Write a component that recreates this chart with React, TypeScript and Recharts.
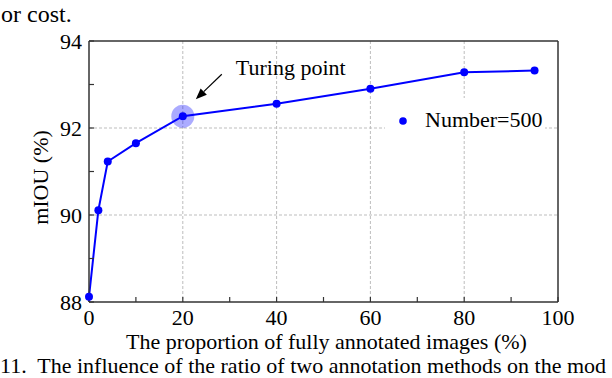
import React from 'react';
import {
  LineChart,
  Line,
  XAxis,
  YAxis,
  CartesianGrid,
  ReferenceLine,
  ReferenceDot,
  Legend,
  Label,
} from 'recharts';

// proportion of fully annotated images (%) and mIOU (%)
const proportions = [0, 2, 4, 10, 20, 40, 60, 80, 95];
const miou = [88.12, 90.11, 91.23, 91.65, 92.27, 92.56, 92.9, 93.28, 93.32];

const xTicks = [0, 10, 20, 30, 40, 50, 60, 70, 80, 90, 100];
const xLabeled = [0, 20, 40, 60, 80, 100];
const yTicks = [88, 89, 90, 91, 92, 93, 94];
const yLabeled = [88, 90, 92, 94];
const xGrid = [20, 40, 60, 80];
const yGrid = [90, 92];

const turningX = 20;
const turningY = 92.27;
const seriesName = 'Number=500';
const turningLabel = 'Turing point';
const xTitle = 'The proportion of fully annotated images (%)';
const yTitle = 'mIOU (%)';
const topCaption = 'or cost.';
const bottomCaption = '11.  The influence of the ratio of two annotation methods on the mod';

const data = proportions.map((p, i) => ({ p, miou: miou[i] }));

const FONT = '"Liberation Serif", "Times New Roman", serif';
const AXIS = '#333';
const BLUE = '#0000ff';

function TurningMark(props: any) {
  const { cx, cy } = props;
  const tipX = cx + 13;
  const tipY = cy - 17;
  const tailX = cx + 39;
  const tailY = cy - 42;
  const dx = tipX - tailX;
  const dy = tipY - tailY;
  const len = Math.hypot(dx, dy);
  const ux = dx / len;
  const uy = dy / len;
  const head = 11;
  const half = 4.5;
  const bx = tipX - ux * head;
  const by = tipY - uy * head;
  const pts = `${tipX},${tipY} ${bx - uy * half},${by + ux * half} ${bx + uy * half},${by - ux * half}`;
  return (
    <g>
      <circle cx={cx} cy={cy} r={11.5} fill={BLUE} fillOpacity={0.33} />
      <line x1={tailX} y1={tailY} x2={bx} y2={by} stroke="#000" strokeWidth={1.2} />
      <polygon points={pts} fill="#000" />
      <text x={cx + 53} y={cy - 41} fontSize={22} fontFamily={FONT} fill="#000">
        {turningLabel}
      </text>
    </g>
  );
}

function LegendBox() {
  return (
    <svg width={160} height={33} style={{ display: 'block' }}>
      <circle cx={18} cy={23} r={3.8} fill={BLUE} />
      <text x={40} y={28.7} fontSize={22} fontFamily={FONT} fill="#000">
        {seriesName}
      </text>
    </svg>
  );
}

export default function App() {
  return (
    <div style={{ position: 'absolute', left: 0, top: 0, width: 612, height: 378, background: '#fff' }}>
      <LineChart width={612} height={378} data={data} margin={{ top: 41, right: 54, bottom: 0, left: 0 }}>
        <CartesianGrid
          stroke="#bdbdbd"
          strokeDasharray="3 2"
          horizontalValues={yGrid}
          verticalValues={xGrid}
        />
        <XAxis
          type="number"
          dataKey="p"
          domain={[0, 100]}
          ticks={xTicks}
          interval={0}
          tickFormatter={(v: number) => (xLabeled.includes(v) ? String(v) : '')}
          height={76}
          tickSize={-5}
          tickMargin={12}
          axisLine={{ stroke: AXIS, strokeWidth: 1.5 }}
          tickLine={{ stroke: AXIS, strokeWidth: 1.2 }}
          tick={{ fill: '#000', fontSize: 22, fontFamily: FONT }}
        >
          <Label
            value={xTitle}
            position="insideBottom"
            offset={29}
            dx={3}
            fill="#000"
            fontSize={22}
            fontFamily={FONT}
          />
        </XAxis>
        <YAxis
          type="number"
          domain={[88, 94]}
          ticks={yTicks}
          interval={0}
          tickFormatter={(v: number) => (yLabeled.includes(v) ? String(v) : '')}
          width={89}
          tickSize={-5}
          tickMargin={12}
          axisLine={{ stroke: AXIS, strokeWidth: 1.5 }}
          tickLine={{ stroke: AXIS, strokeWidth: 1.2 }}
          tick={{ fill: '#000', fontSize: 22, fontFamily: FONT }}
        >
          <Label
            content={(p: any) => {
              const vb = p.viewBox || { x: 0, y: 41, width: 89, height: 261 };
              const x = vb.x + 48;
              const y = vb.y + vb.height / 2 + 6;
              return (
                <text
                  x={x}
                  y={y}
                  transform={`rotate(-90 ${x} ${y})`}
                  textAnchor="middle"
                  fontSize={22}
                  fontFamily={FONT}
                  fill="#000"
                >
                  {yTitle}
                </text>
              );
            }}
          />
        </YAxis>
        <ReferenceLine y={94} stroke={AXIS} strokeWidth={1.5} />
        <ReferenceLine x={100} stroke={AXIS} strokeWidth={1.5} />
        <ReferenceDot x={turningX} y={turningY} r={11.5} shape={TurningMark} />
        <Line
          type="linear"
          dataKey="miou"
          name={seriesName}
          stroke={BLUE}
          strokeWidth={2}
          dot={{ r: 4, fill: BLUE, stroke: 'none' }}
          activeDot={false}
          isAnimationActive={false}
        />
        <Legend
          layout="vertical"
          align="center"
          verticalAlign="middle"
          wrapperStyle={{ left: 385, top: 98, width: 160, height: 33, background: '#fff', margin: 0, padding: 0 }}
          content={() => <LegendBox />}
        />
      </LineChart>
      <svg
        width={612}
        height={378}
        style={{ position: 'absolute', left: 0, top: 0, pointerEvents: 'none' }}
      >
        <text x={1} y={21.5} fontSize={24} fontFamily={FONT} fill="#000">
          {topCaption}
        </text>
        <text x={0} y={372.5} fontSize={22} fontFamily={FONT} fill="#000" style={{ whiteSpace: 'pre' }}>
          {bottomCaption}
        </text>
      </svg>
    </div>
  );
}
